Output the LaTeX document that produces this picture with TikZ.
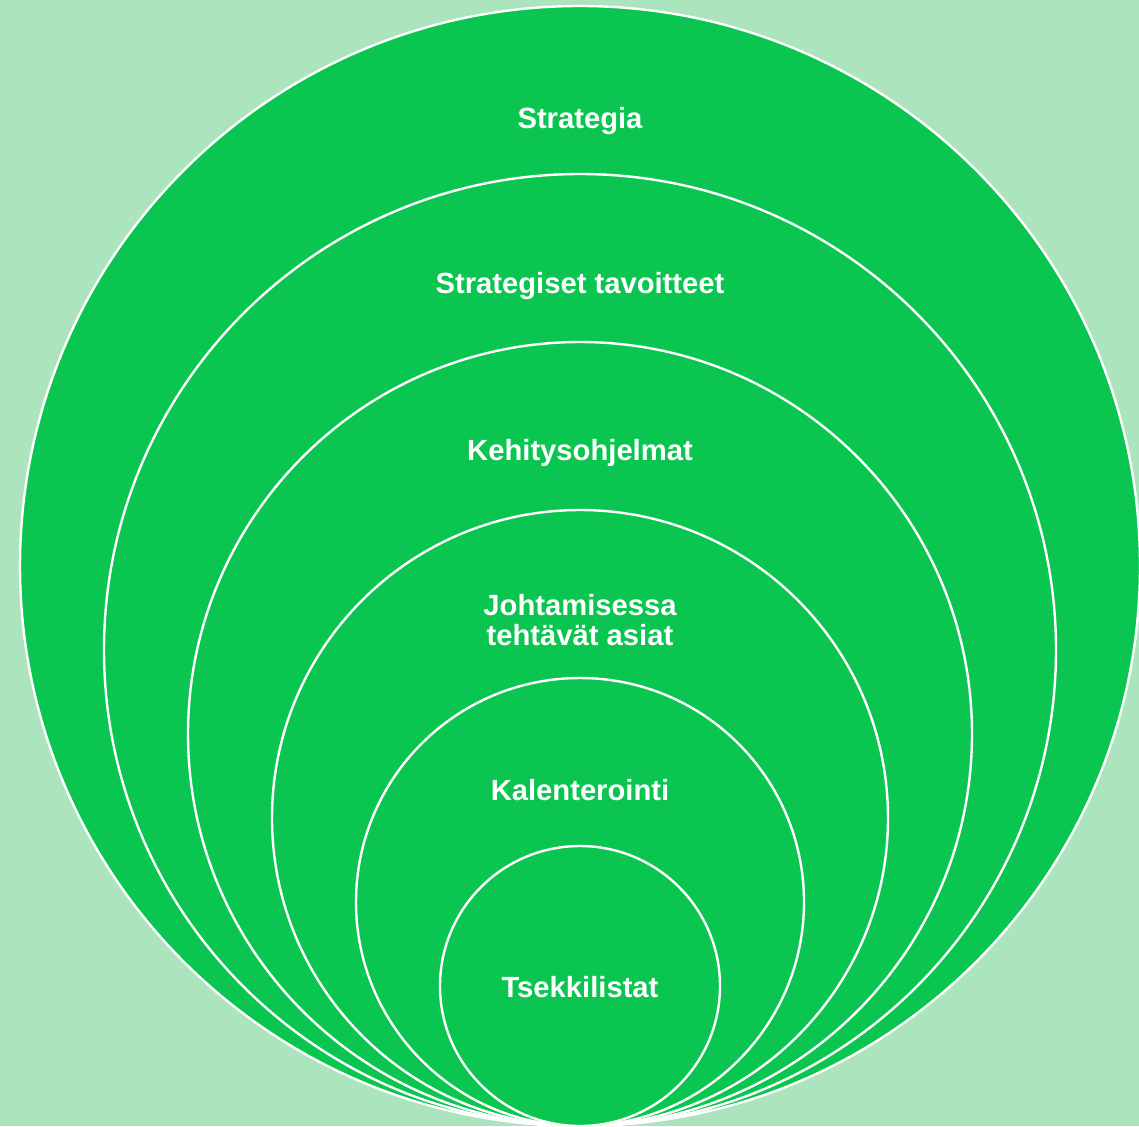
\documentclass[tikz,border=0pt]{standalone}
\usepackage{fontspec}
\setmainfont{Liberation Sans}
\definecolor{bgc}{HTML}{ACE4BD}
\definecolor{ringc}{HTML}{0AC650}
\begin{document}
\begin{tikzpicture}[x=0.5pt,y=-0.5pt,
  ring/.style={fill=ringc,draw=white,line width=1.2pt},
  lbl/.style={text=white,font=\fontsize{14.6}{15}\selectfont\bfseries,align=center,inner sep=0pt,anchor=base}]
\fill[bgc] (0,0) rectangle (1139,1126);
\useasboundingbox (0,0) rectangle (1139,1126);
\coordinate (c1) at (580,566);
\coordinate (c2) at (580,650);
\coordinate (c3) at (580,734);
\coordinate (c4) at (580,818);
\coordinate (c5) at (580,902);
\coordinate (c6) at (580,986);
\draw[ring] (c1) circle (280pt);
\draw[ring] (c2) circle (238pt);
\draw[ring] (c3) circle (196pt);
\draw[ring] (c4) circle (154pt);
\draw[ring] (c5) circle (112pt);
\draw[ring] (c6) circle (70pt);
\node[lbl] (t1) at (580,128) {Strategia};
\node[lbl] (t2) at (580,293) {Strategiset tavoitteet};
\node[lbl] (t3) at (580,460) {Kehitysohjelmat};
\node[lbl] (t4) at (580,645) {Johtamisessa\\tehtävät asiat};
\node[lbl] (t5) at (580,800) {Kalenterointi};
\node[lbl] (t6) at (580,997) {Tsekkilistat};
\end{tikzpicture}
\end{document}
